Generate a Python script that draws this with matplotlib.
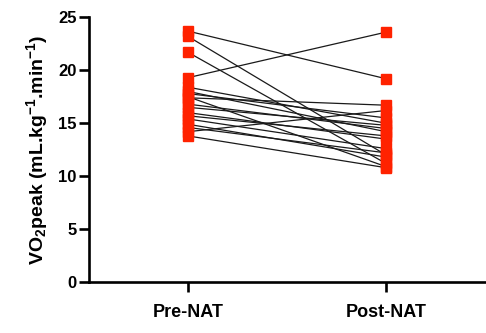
import matplotlib
matplotlib.use("Agg")
import matplotlib.pyplot as plt

# Paired VO2peak values per subject
groups = ["Pre-NAT", "Post-NAT"]
pre_nat = [23.7, 23.2, 21.7, 19.3, 18.4, 18.0, 17.8, 17.5, 17.4,
           16.5, 16.0, 15.7, 15.4, 14.9, 14.2, 13.8, 14.6, 16.8]
post_nat = [19.2, 12.0, 11.2, 23.6, 15.0, 14.2, 15.5, 10.9, 16.7,
            14.8, 13.5, 13.8, 12.6, 11.8, 16.2, 10.8, 12.2, 14.5]
y_ticks = [0, 5, 10, 15, 20, 25]

plt.rcParams["font.family"] = ["Liberation Sans", "DejaVu Sans"]
plt.rcParams["font.weight"] = "bold"
plt.rcParams["mathtext.fontset"] = "custom"
plt.rcParams["mathtext.rm"] = "Liberation Sans:bold"
plt.rcParams["mathtext.it"] = "Liberation Sans:bold"
plt.rcParams["mathtext.bf"] = "Liberation Sans:bold"

fig = plt.figure(figsize=(4.86, 3.33), dpi=100)
ax = fig.add_axes([0.183, 0.153, 0.815, 0.795])

xpos = [0, 1]
for a, b in zip(pre_nat, post_nat):
    ax.plot(xpos, [a, b], color="#1a1a1a", lw=0.9, zorder=1)

red = "#ff2200"
ax.plot([0] * len(pre_nat), pre_nat, "s", ms=7.2, color=red, mec=red, zorder=3, ls="none")
ax.plot([1] * len(post_nat), post_nat, "s", ms=7.2, color=red, mec=red, zorder=3, ls="none")

ax.set_xlim(-0.5, 1.5)
ax.set_ylim(0, 25)
ax.set_yticks(y_ticks)
ax.set_xticks(xpos)
ax.set_xticklabels(groups, fontsize=13, fontweight="bold")
for lab in ax.get_yticklabels():
    lab.set_fontsize(12)
    lab.set_fontweight("bold")

ax.set_ylabel(r"VO$_2$peak (mL.kg$^{-1}$.min$^{-1}$)", fontsize=14,
              fontweight="bold", labelpad=6)

for side in ["top", "right"]:
    ax.spines[side].set_visible(False)
for side in ["left", "bottom"]:
    ax.spines[side].set_linewidth(1.9)
ax.spines["left"].set_bounds(0, 25)
ax.tick_params(axis="both", width=1.9, length=7, pad=2)
ax.tick_params(axis="x", pad=9)

fig.savefig("out.png", dpi=100)
